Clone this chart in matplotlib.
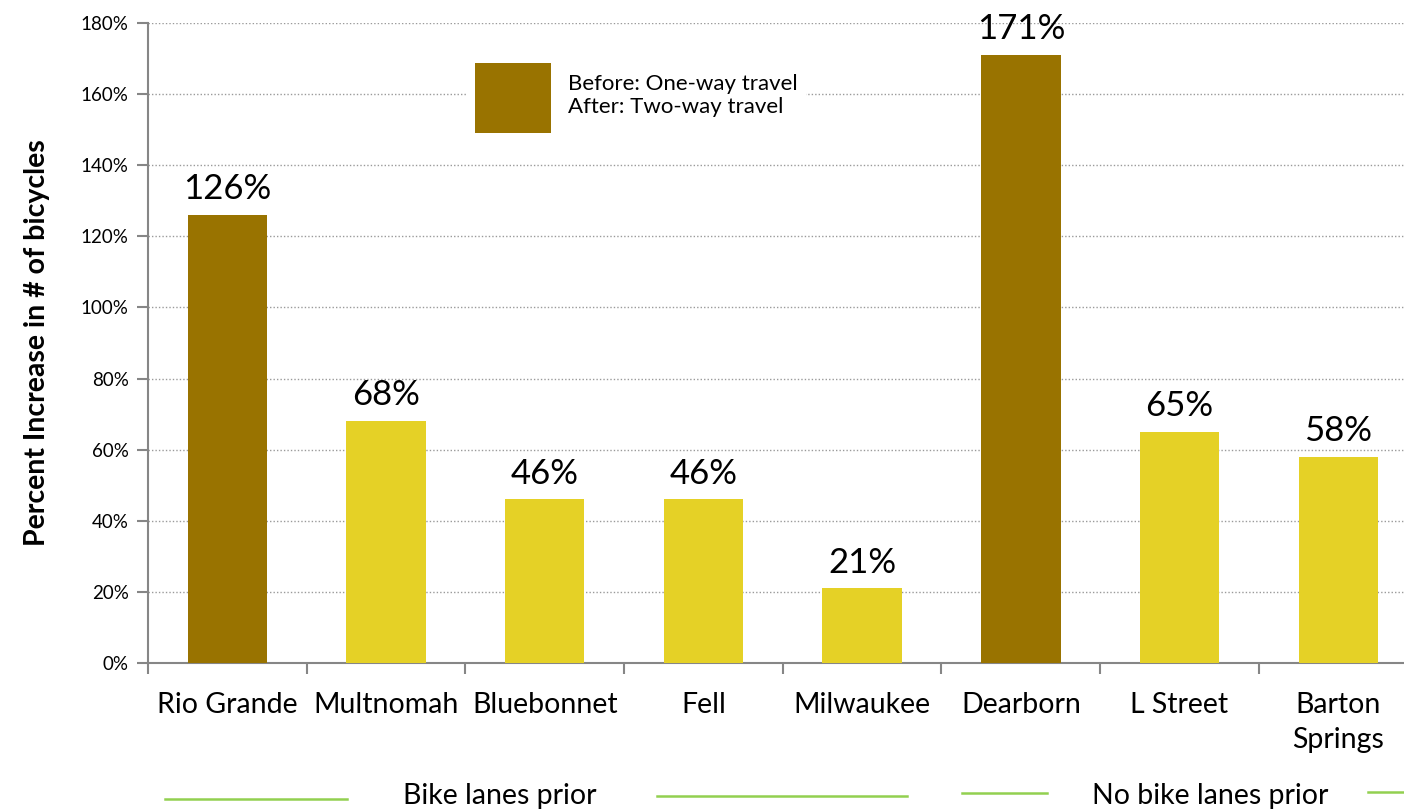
import matplotlib.pyplot as plt
import numpy as np
from matplotlib.lines import Line2D
from matplotlib.patches import Patch

# Bicycle counts before/after street conversion
streets = ['Rio Grande', 'Multnomah', 'Bluebonnet', 'Fell', 'Milwaukee',
           'Dearborn', 'L Street', 'Barton\nSprings']
pct_increase = [126, 68, 46, 46, 21, 171, 65, 58]
two_way = [True, False, False, False, False, True, False, False]
y_ticks = [0, 20, 40, 60, 80, 100, 120, 140, 160, 180]

DARK = '#997300'
YELLOW = '#E5D126'
AXIS_GRAY = '#868686'
GREEN = '#92D050'

plt.rcParams['font.family'] = ['Lato', 'DejaVu Sans']

fig = plt.figure(figsize=(14.04, 8.11), dpi=100)
ax = fig.add_axes([148 / 1404, 148 / 811, 8 * 158.7 / 1404, 640 / 811])

x = np.arange(len(streets))
colors = [DARK if t else YELLOW for t in two_way]
bars = ax.bar(x, pct_increase, width=0.5, color=colors, zorder=3)

for xi, v in zip(x, pct_increase):
    ax.annotate(f'{v}%', (xi, v), textcoords='offset points', xytext=(0, 7),
                ha='center', va='bottom', fontsize=25, color='black', zorder=4)

ax.set_xlim(-0.5, len(streets) - 0.5)
ax.set_ylim(0, 180)
ax.set_yticks(y_ticks)
ax.set_yticklabels([f'{t}%' for t in y_ticks], fontsize=13.5)
ax.yaxis.grid(True, color='#9a9a9a', linestyle=(0, (1, 1.5)), linewidth=1, zorder=0)

# category labels centred, tick marks on the boundaries
ax.set_xticks(x)
ax.set_xticklabels(streets, fontsize=20.5, linespacing=1.4)
ax.tick_params(axis='x', which='major', length=0, pad=21)
ax.set_xticks(np.arange(len(streets) + 1) - 0.5, minor=True)
ax.tick_params(axis='x', which='minor', length=8, width=1.5, color=AXIS_GRAY)
ax.tick_params(axis='y', length=8, width=1.5, color=AXIS_GRAY, pad=6)

for side in ['top', 'right']:
    ax.spines[side].set_visible(False)
for side in ['left', 'bottom']:
    ax.spines[side].set_color(AXIS_GRAY)
    ax.spines[side].set_linewidth(1.5)

ax.set_ylabel('Percent Increase in # of bicycles', fontsize=20.5, fontweight='bold',
              labelpad=22)

handle = Patch(facecolor=DARK, edgecolor='none')
leg = fig.legend([handle], ['Before: One-way travel\nAfter: Two-way travel'],
                 loc='center', bbox_to_anchor=(636 / 1404, 1 - 98 / 811),
                 frameon=True, facecolor='white', edgecolor='none', framealpha=1,
                 fontsize=16, handlelength=3.45, handleheight=4.45,
                 handletextpad=0.75, borderpad=0.4, fancybox=False)
for t in leg.get_texts():
    t.set_linespacing(1.15)

# bottom group key: text with green rules
fig.text(500 / 1404, 1 - 796 / 811, 'Bike lanes prior', ha='center', va='center',
         fontsize=20.5)
fig.text(1210 / 1404, 1 - 796 / 811, 'No bike lanes prior', ha='center', va='center',
         fontsize=20.5)
for x0, x1, yy in [(165, 347, 799), (657, 907, 796), (962, 1047, 793), (1368, 1404, 792)]:
    fig.add_artist(Line2D([x0 / 1404, x1 / 1404], [1 - yy / 811, 1 - yy / 811],
                          color=GREEN, linewidth=1.8))

fig.savefig('out.png', dpi=100, facecolor='white')
